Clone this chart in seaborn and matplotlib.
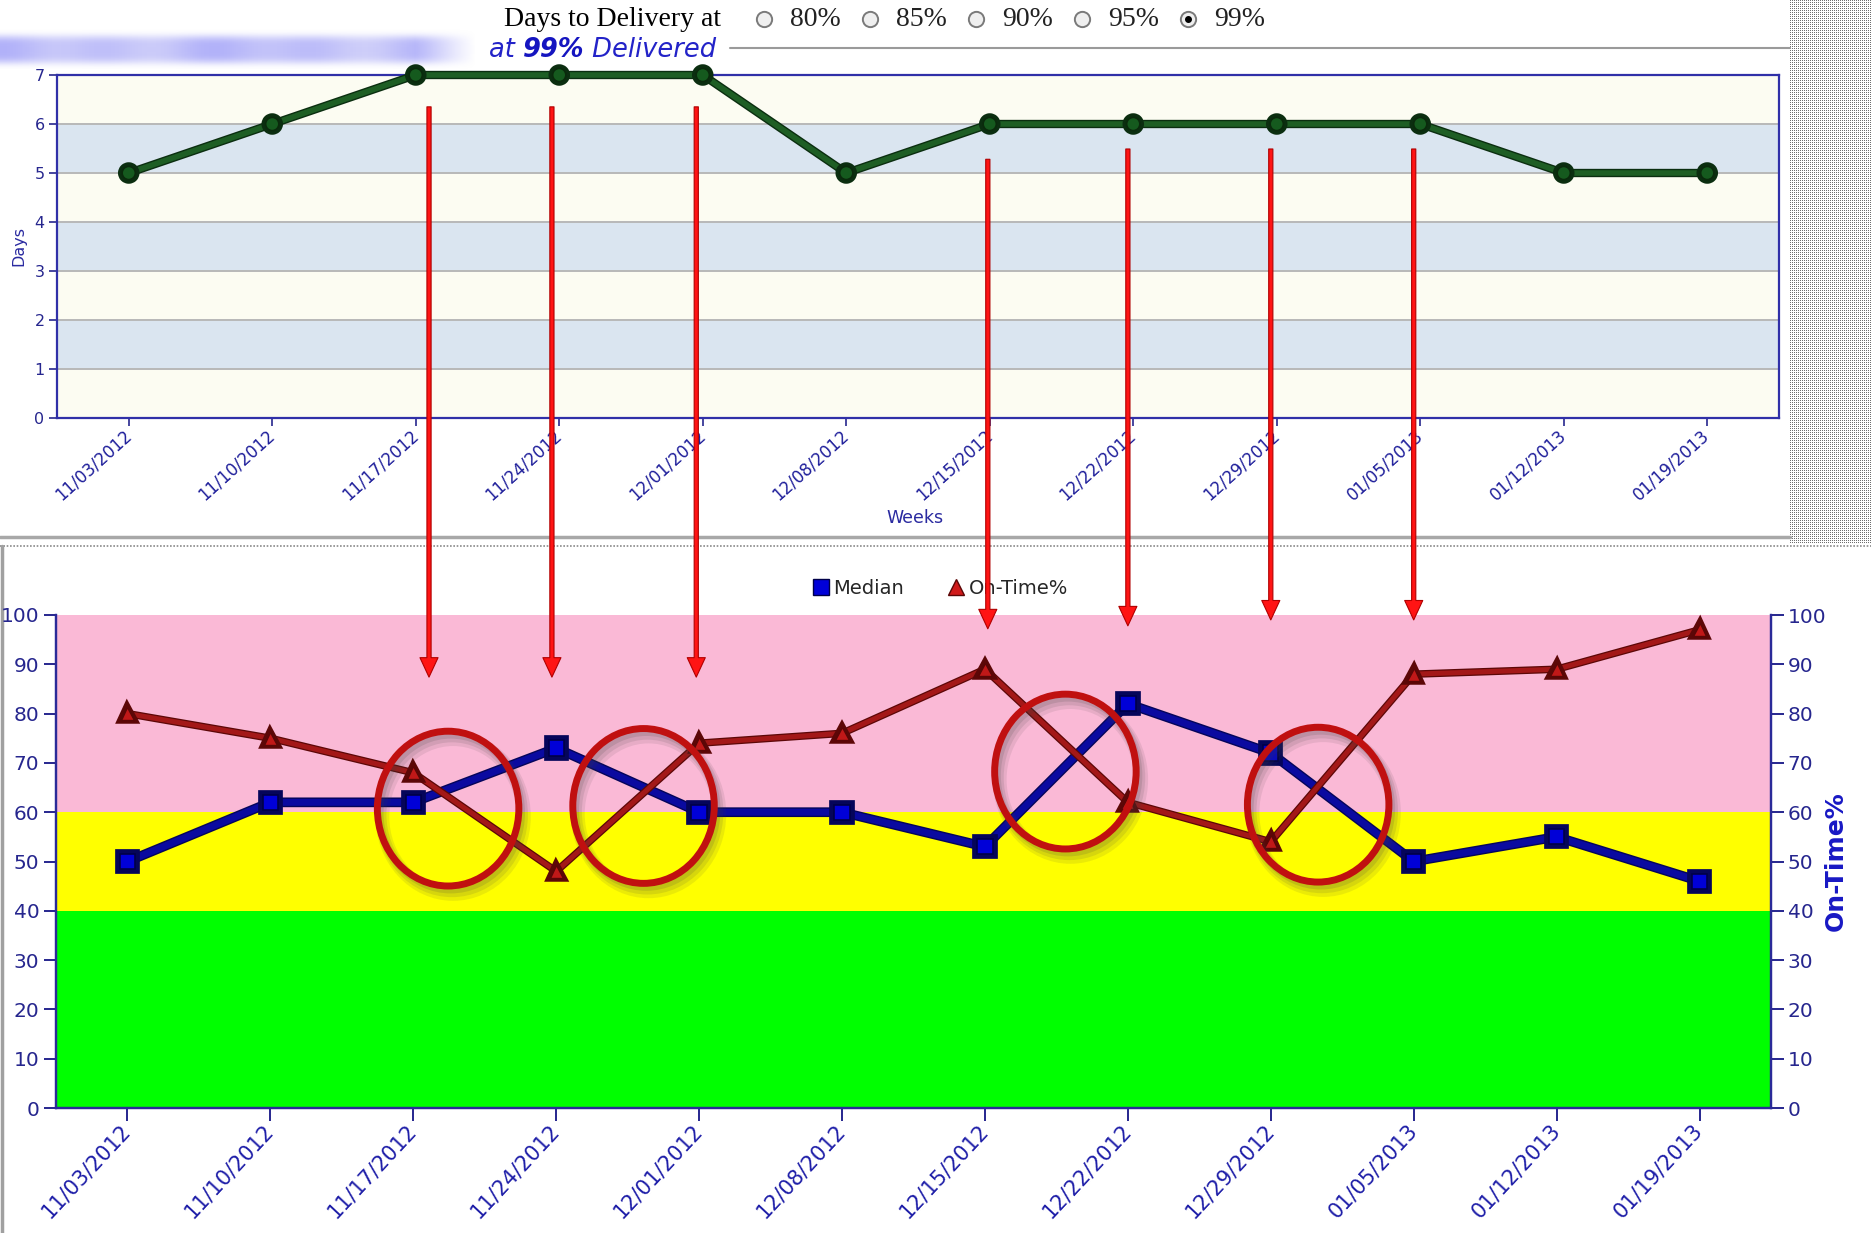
import numpy as np
import pandas as pd
import matplotlib
matplotlib.use("Agg")
import matplotlib.pyplot as plt
import matplotlib.patheffects as pe
import matplotlib.transforms as mtransforms
from matplotlib.patches import Ellipse, ConnectionPatch
from matplotlib.lines import Line2D
import seaborn as sns

# ---- data -------------------------------------------------------------
weeks = ["11/03/2012", "11/10/2012", "11/17/2012", "11/24/2012", "12/01/2012", "12/08/2012",
         "12/15/2012", "12/22/2012", "12/29/2012", "01/05/2013", "01/12/2013", "01/19/2013"]
days_at_99 = [5, 6, 7, 7, 7, 5, 6, 6, 6, 6, 5, 5]
median_pct = [50, 62, 62, 73, 60, 60, 53, 82, 72, 50, 55, 46]
on_time_pct = [80, 75, 68, 48, 74, 76, 89, 62, 54, 88, 89, 97]
radio_options = ["80%", "85%", "90%", "95%", "99%"]
selected_option = "99%"
zone_bounds = [0, 40, 60, 100]
zone_colors = ["#00FF00", "#FFFF00", "#FAB9D6"]
# weeks whose delivery time drops into the percentage panel
flagged_weeks = ["11/17/2012", "11/24/2012", "12/01/2012", "12/15/2012",
                 "12/22/2012", "12/29/2012", "01/05/2013"]

# ---- style --------------------------------------------------------------
sns.set_style("white")
plt.rcParams["font.family"] = ["DejaVu Sans"]
NAVY = "#26268E"
W, H = 1871, 1233

fig = plt.figure(figsize=(W / 100, H / 100), dpi=100)
fig.patch.set_facecolor("white")

df = pd.DataFrame({"week": np.arange(len(weeks)), "days": days_at_99,
                   "median": median_pct, "on_time": on_time_pct})

# ---- page overlay (header, separators, side pattern) -------------------
ov = fig.add_axes([0, 0, 1, 1], zorder=-1)
ov.set_xlim(0, W)
ov.set_ylim(H, 0)
ov.axis("off")

serif = ["Liberation Serif", "DejaVu Serif"]
ov.text(504, 20, "Days to Delivery at", family=serif,
        fontsize=20, va="center", ha="left", color="black")
for k, opt in enumerate(radio_options):
    cx = 764 + 106 * k
    ov.plot(cx, 19, marker="o", ms=11, mfc="#efefef", mec="#7a7a7a", mew=1.4)
    if opt == selected_option:
        ov.plot(cx, 19, marker="o", ms=4, mfc="black", mec="black")
    ov.text(cx + 26, 20, opt, family=serif,
            fontsize=20, va="center", ha="left", color="#222222")

# soft blurred caption block on the left
yy, xx = np.mgrid[0:40, 0:480]
alpha = np.clip((475 - xx) / 60, 0, 1) * np.exp(-((yy - 20) / 14.0) ** 4)
shade = 0.5 + 0.5 * np.cos(xx / 23.0) * np.cos(xx / 61.0)
rgba = np.zeros((40, 480, 4))
rgba[..., 0] = 0.80 - 0.12 * shade
rgba[..., 1] = 0.80 - 0.12 * shade
rgba[..., 2] = 0.98
rgba[..., 3] = alpha * 0.95
ov.imshow(rgba, extent=(0, 480, 69, 29), interpolation="bilinear", aspect="auto")

t1 = ov.text(489, 50, "at ", fontsize=18.5, style="italic", color="#2323C8",
             va="center", ha="left")
t2 = ov.annotate("99%", xy=(1, 0), xycoords=t1, va="bottom", ha="left",
                 fontsize=18.5, style="italic", weight="bold", color="#1515C0")
t3 = ov.annotate(" Delivered", xy=(1, 0), xycoords=t2, va="bottom", ha="left",
                 fontsize=18.5, style="italic", color="#2323C8")
ov.plot([730, 1790], [48, 48], color="#9a9a9a", lw=1.5)

# separators between the panels
ov.plot([0, 1790], [537, 537], color="#a8a8a8", lw=2.5)
ov.plot([0, W], [546, 546], color="#8a8a8a", lw=1.2, ls=(0, (1, 1)))
ov.plot([2, 2], [546, H], color="#a0a0a0", lw=2.5)

# dotted side panel
py, px = np.mgrid[0:543, 0:81]
dots = ((py % 2 == 0) & (px % 2 == 0)).astype(float)
ov.imshow(dots, cmap=matplotlib.colors.ListedColormap(["#ffffff", "#6e6e6e"]),
          extent=(1790, 1871, 543, 0), interpolation="nearest", aspect="auto")

# ---- top panel: days to delivery ---------------------------------------
ax_top = fig.add_axes([57 / W, 1 - 418 / H, 1722 / W, 343 / H])
band_colors = ["#FCFCF2", "#DAE5F0"]
for k in range(7):
    ax_top.axhspan(k, k + 1, color=band_colors[k % 2], lw=0, zorder=0)
for k in range(1, 7):
    ax_top.axhline(k, color="#b8b8b8", lw=1.4, zorder=1)

sns.lineplot(data=df, x="week", y="days", ax=ax_top, color="#1E5E24", lw=4,
             marker="o", markersize=9.5, markerfacecolor="#155A1E",
             markeredgecolor="#0A2A0C", markeredgewidth=1.2, clip_on=False, zorder=5,
             path_effects=[pe.Stroke(linewidth=6, foreground="#0B2E10"), pe.Normal()])

ax_top.set_xlim(-0.5, len(weeks) - 0.5)
ax_top.set_ylim(0, 7)
ax_top.set_yticks(range(0, 8))
ax_top.set_xticks(range(len(weeks)))
ax_top.set_xticklabels(weeks, rotation=42, ha="right", va="center",
                       rotation_mode="anchor", fontsize=12, color="#1E1E9A")
ax_top.tick_params(axis="y", labelsize=11.5, labelcolor=NAVY, color=NAVY,
                   length=6, width=1.2, direction="out", left=True, pad=3)
ax_top.tick_params(axis="x", color=NAVY, length=6, width=1.2, direction="out",
                   bottom=True, pad=5)
for sp in ax_top.spines.values():
    sp.set_color("#3030A8")
    sp.set_linewidth(1.6)
ax_top.set_ylabel("Days", fontsize=11.5, color="#2A2AA0")
ax_top.yaxis.set_label_coords(-0.018, 0.5)
ax_top.set_xlabel("Weeks", fontsize=12.5, color="#2A2AA0")
ax_top.xaxis.set_label_coords(0.498, -0.265)

# ---- bottom panel: median vs on-time -----------------------------------
ax = fig.add_axes([56 / W, 1 - 1108 / H, 1715 / W, 493 / H])
for lo, hi, c in zip(zone_bounds[:-1], zone_bounds[1:], zone_colors):
    ax.axhspan(lo, hi, color=c, lw=0, zorder=0)
ax2 = ax.twinx()

sns.lineplot(data=df, x="week", y="median", ax=ax, color="#0A0AA0", lw=5,
             marker="s", markersize=11, markerfacecolor="#0000D8",
             markeredgecolor="#000048", markeredgewidth=1.2, zorder=5, clip_on=False,
             path_effects=[pe.Stroke(linewidth=7, foreground="#05055A"), pe.Normal()])
sns.lineplot(data=df, x="week", y="on_time", ax=ax2, color="#A31818", lw=3.6,
             marker="^", markersize=9.5, markerfacecolor="#C01818",
             markeredgecolor="#5A0606", markeredgewidth=1.0, zorder=5, clip_on=False,
             path_effects=[pe.Stroke(linewidth=5.4, foreground="#5C0707"), pe.Normal()])

for a in (ax, ax2):
    a.set_xlim(-0.5, len(weeks) - 0.5)
    a.set_ylim(0, 100)
    a.set_yticks(range(0, 101, 10))
    a.spines["top"].set_visible(False)
    for side in ("left", "right", "bottom"):
        a.spines[side].set_color("#2A2A98")
        a.spines[side].set_linewidth(1.6)
    a.set_xlabel("")
ax.set_ylabel("")
ax.set_xticks(range(len(weeks)))
ax.set_xticklabels(weeks, rotation=47, ha="right", va="center",
                   rotation_mode="anchor", fontsize=15, color="#1E1EA8")
ax.tick_params(axis="x", color=NAVY, length=9, width=1.4, direction="out",
               bottom=True, pad=5)
ax.tick_params(axis="y", labelsize=14.5, labelcolor=NAVY, color=NAVY,
               length=9, width=1.4, direction="out", left=True, pad=3)
ax2.tick_params(axis="y", labelsize=14.5, labelcolor=NAVY, color=NAVY,
                length=9, width=1.4, direction="out", right=True, pad=3)
ax2.set_ylabel("On-Time%", fontsize=18, weight="bold", color="#1818C4")
ax2.yaxis.set_label_coords(1.031, 0.5)

handles = [Line2D([], [], ls="none", marker="s", ms=11, mfc="#0000D8", mec="#000048"),
           Line2D([], [], ls="none", marker="^", ms=12, mfc="#D01A1A", mec="#5A0606")]
fig.legend(handles, ["Median", "On-Time%"], loc="center",
           bbox_to_anchor=(940 / W, 1 - 588 / H), ncol=2, frameon=False,
           fontsize=14, handletextpad=0.2, columnspacing=2.2, handlelength=0.9)

# ---- circled crossings of the two series -------------------------------
def crossings(a, b):
    pts = []
    for i in range(len(a) - 1):
        d0, d1 = a[i] - b[i], a[i + 1] - b[i + 1]
        if d0 * d1 < 0:
            t = d0 / (d0 - d1)
            pts.append((i + t, a[i] + t * (a[i + 1] - a[i])))
    return pts

circle_nudge = [0.05, -0.03, -0.08, 0.01]
for (cx, cy), nx in zip(crossings(median_pct, on_time_pct), circle_nudge):
    cx += nx
    cy -= 3.4
    for k, al in enumerate([0.10, 0.12, 0.15]):
        ax2.add_patch(Ellipse((cx + 0.035 - 0.008 * k, cy - 1.6 + 0.4 * k), 0.99, 31.4,
                              fill=False, ec="#404040", lw=10 - 2.5 * k, alpha=al,
                              clip_on=False, zorder=8))
    ax2.add_patch(Ellipse((cx, cy), 0.99, 31.4, fill=False, ec="#C01010", lw=5,
                          clip_on=False, zorder=9))

# ---- drop arrows from the days panel into the percentage panel ---------
arrow_dx = [0.11, -0.03, -0.02, 0.02, 0.0, 0.0, 0.0]
arrow_from = [6.35, 6.35, 6.35, 5.28, 5.49, 5.49, 5.49]
arrow_to = [87.4, 87.4, 87.4, 97.2, 97.8, 99.0, 99.0]
start_tf = mtransforms.blended_transform_factory(ax.transData, ax_top.transData)
for wk, dx, y0, y1 in zip(flagged_weeks, arrow_dx, arrow_from, arrow_to):
    xi = weeks.index(wk) + dx
    cp = ConnectionPatch(xyA=(xi, y0), coordsA=start_tf,
                         xyB=(xi, y1), coordsB=ax.transData,
                         arrowstyle="simple,head_length=1.4,head_width=1.3,tail_width=0.3",
                         mutation_scale=10, fc="#FF1414", ec="#B00000", lw=0.8,
                         zorder=20)
    fig.add_artist(cp)

fig.savefig("out.png", dpi=100, facecolor="white")
